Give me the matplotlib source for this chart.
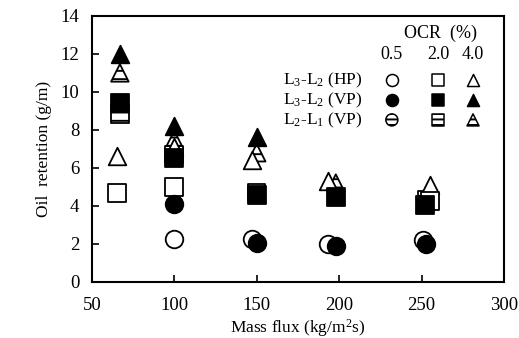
import matplotlib
matplotlib.use("Agg")
import matplotlib.pyplot as plt

plt.rcParams["font.family"] = ["Liberation Serif", "DejaVu Serif"]
plt.rcParams["mathtext.fontset"] = "custom"
plt.rcParams["mathtext.rm"] = "Liberation Serif"
plt.rcParams["mathtext.it"] = "Liberation Serif:italic"
plt.rcParams["hatch.linewidth"] = 1.4

# L3-L2 (HP): open markers
hp_circle_x = [100, 147, 193, 251]
hp_circle_y = [2.27, 2.28, 2.0, 2.2]
hp_square_x = [65, 100, 255]
hp_square_y = [4.7, 5.0, 4.25]
hp_tri_x = [65, 100, 147, 193, 255]
hp_tri_y = [6.6, 7.1, 6.4, 5.3, 5.1]

# L3-L2 (VP): filled markers
vp_circle_x = [100, 150, 198, 253]
vp_circle_y = [4.1, 2.05, 1.9, 2.0]
vp_square_x = [67, 100, 150, 198, 252]
vp_square_y = [9.4, 6.5, 4.55, 4.45, 4.05]
vp_tri_x = [67, 100, 150]
vp_tri_y = [12.0, 8.2, 7.6]

# L2-L1 (VP): hatched markers
l21_square_x = [67, 100, 150, 253]
l21_square_y = [8.85, 6.7, 4.7, 4.3]
l21_tri_x = [67, 100, 150, 198, 255]
l21_tri_y = [11.0, 7.5, 6.8, 5.2, 4.6]

ocr_labels = ["0.5", "2.0", "4.0"]
row_labels = [r"L$_3$-L$_2$ (HP)", r"L$_3$-L$_2$ (VP)", r"L$_2$-L$_1$ (VP)"]

fig = plt.figure(figsize=(5.19, 3.38), dpi=100)
ax = fig.add_axes([0.177, 0.166, 0.794, 0.787])

s = 160
open_kw = dict(facecolor="white", edgecolor="black", linewidths=1.3, s=s)
fill_kw = dict(facecolor="black", edgecolor="black", linewidths=1.3, s=s)
hatch_kw = dict(facecolor="white", edgecolor="black", linewidths=1.3, s=s, hatch="--")

ax.scatter(l21_tri_x, l21_tri_y, marker="^", zorder=2, **hatch_kw)
ax.scatter(l21_square_x, l21_square_y, marker="s", zorder=2, **hatch_kw)
ax.scatter(hp_tri_x, hp_tri_y, marker="^", zorder=3, **open_kw)
ax.scatter(hp_square_x, hp_square_y, marker="s", zorder=3, **open_kw)
ax.scatter(hp_circle_x, hp_circle_y, marker="o", zorder=3, **open_kw)
ax.scatter(vp_tri_x, vp_tri_y, marker="^", zorder=4, **fill_kw)
ax.scatter(vp_square_x, vp_square_y, marker="s", zorder=4, **fill_kw)
ax.scatter(vp_circle_x, vp_circle_y, marker="o", zorder=4, **fill_kw)

ax.set_xlim(50, 300)
ax.set_ylim(0, 14)
ax.set_xticks([50, 100, 150, 200, 250, 300])
ax.set_yticks([0, 2, 4, 6, 8, 10, 12, 14])
ax.tick_params(direction="in", length=5, width=1.2, labelsize=13.5)
ax.tick_params(axis="x", pad=11)
ax.tick_params(axis="y", pad=9)
for sp in ax.spines.values():
    sp.set_linewidth(1.5)

ax.set_xlabel(r"Mass flux (kg/m$^2$s)", fontsize=12.5, labelpad=2)
ax.set_ylabel("Oil  retention (g/m)", fontsize=12.5, labelpad=6)

# legend table
col_x = [0.728, 0.840, 0.925]
row_y = [0.759, 0.684, 0.609]
ax.text(0.845, 0.936, "OCR  (%)", transform=ax.transAxes, ha="center", va="center", fontsize=13)
for cx, lab in zip(col_x, ocr_labels):
    ax.text(cx, 0.853, lab, transform=ax.transAxes, ha="center", va="center", fontsize=13)
for ry, lab in zip(row_y, row_labels):
    ax.text(0.658, ry, lab, transform=ax.transAxes, ha="right", va="center", fontsize=12.5)

styles = [open_kw, fill_kw, dict(hatch_kw, hatch="---")]
for ry, kw in zip(row_y, styles):
    kw2 = dict(kw)
    kw2["s"] = 75
    kw2["linewidths"] = 1.1
    for cx, m in zip(col_x, ["o", "s", "^"]):
        ax.scatter([cx], [ry], marker=m, transform=ax.transAxes, clip_on=False, zorder=5, **kw2)

fig.savefig("out.png", dpi=100)
